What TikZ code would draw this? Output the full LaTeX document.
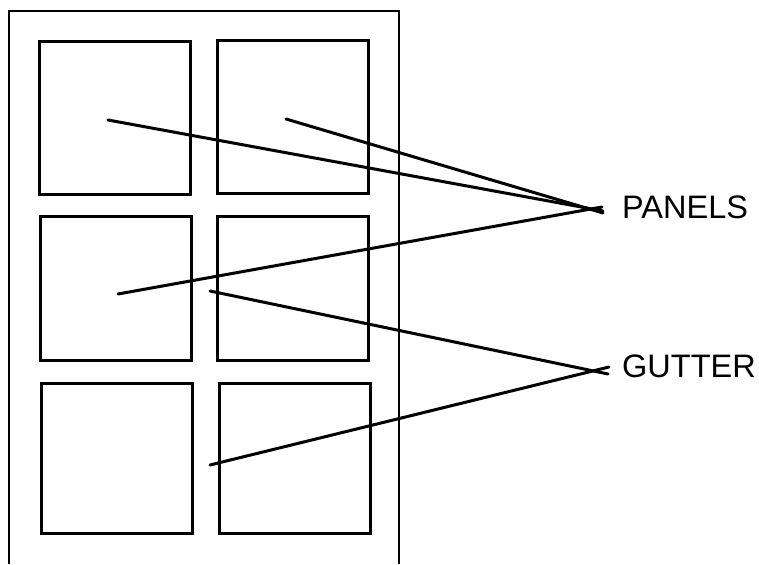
\documentclass[tikz,border=0pt]{standalone}
\usepackage{fontspec}
\setmainfont{Liberation Sans}
\usepackage{tikz}

\tikzset{
	panel/.style={draw, rectangle, line width=3pt, minimum width=151pt, inner sep=0pt},
	pointer/.style={line width=3pt, line cap=round},
	callout/.style={anchor=west, inner sep=0pt, font=\fontsize{32.5}{38}\selectfont}
}

\begin{document}
\begin{tikzpicture}[x=1pt, y=-1pt]
	\useasboundingbox (0,0) rectangle (759,564);

	% page outline, open at the bottom
	\draw[line width=2.4pt] (9,564) -- (9,11) -- (399,11) -- (399,564);

	% the six panels
	\node[panel, minimum height=153pt] (p11) at (115,118) {};
	\node[panel, minimum height=152pt] (p12) at (292.5,117) {};
	\node[panel, minimum height=144pt] (p21) at (116,288) {};
	\node[panel, minimum height=144pt] (p22) at (293,288) {};
	\node[panel, minimum height=150pt] (p31) at (117,458) {};
	\node[panel, minimum height=150pt] (p32) at (294.5,458) {};

	\node[callout] (panels) at (622,207) {PANELS};
	\node[callout] (gutter) at (622,366) {GUTTER};

	\coordinate (a11) at (108,120);
	\coordinate (a12) at (286,119);
	\coordinate (a21) at (118,294);
	\coordinate (g1) at (210,291);
	\coordinate (g2) at (210,465);

	\draw[pointer] (a11) -- ([xshift=-19pt,yshift=-4pt]panels.west);
	\draw[pointer] (a12) -- ([xshift=-19pt,yshift=-6pt]panels.west);
	\draw[pointer] (a21) -- ([xshift=-20pt,yshift=0pt]panels.west);
	\draw[pointer] (g1) -- ([xshift=-14pt,yshift=-8pt]gutter.west);
	\draw[pointer] (g2) -- ([xshift=-13pt,yshift=-1pt]gutter.west);
\end{tikzpicture}
\end{document}
